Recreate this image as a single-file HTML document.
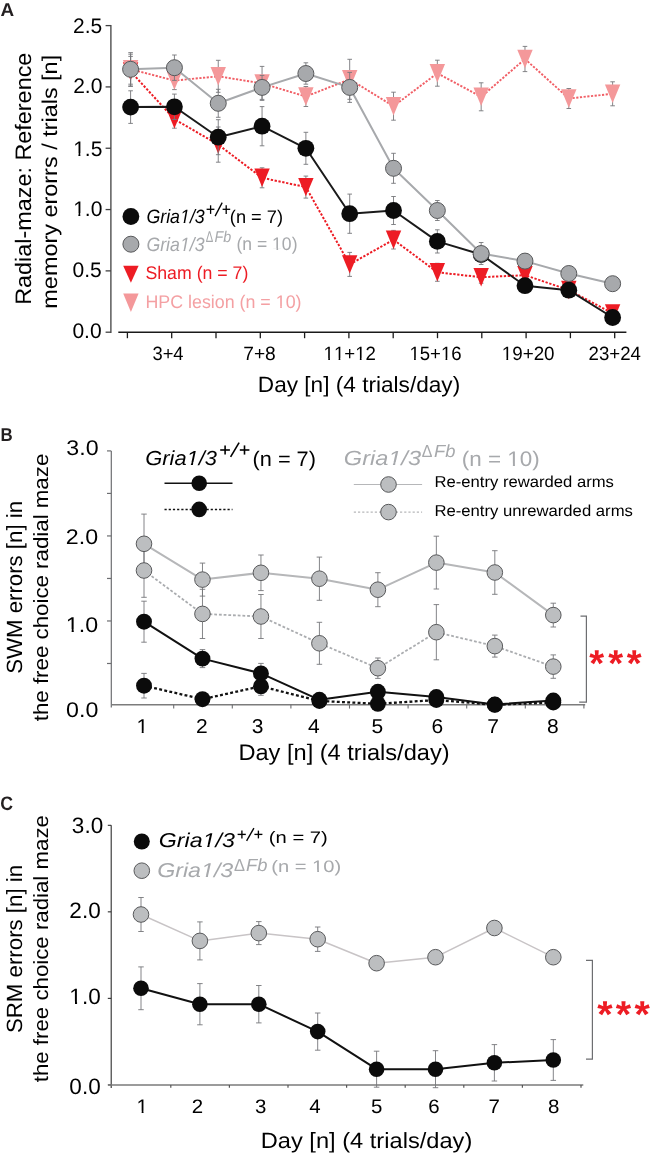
<!DOCTYPE html><html><head><meta charset="utf-8"><title>Figure</title><style>html,body{margin:0;padding:0;background:#fff;}svg{display:block;}text{font-family:"Liberation Sans", sans-serif;font-kerning:none;text-rendering:geometricPrecision;}svg{will-change:transform;}</style></head><body>
<svg width="650" height="1154" viewBox="0 0 650 1154">
<rect width="650" height="1154" fill="#fff"/>
<text x="0.43" y="16.10" font-size="18.6" font-weight="bold" font-style="normal" fill="#231f20" textLength="13.67" lengthAdjust="spacingAndGlyphs">A</text>
<line x1="110.90" y1="25.00" x2="110.90" y2="332.90" stroke="#404041" stroke-width="1.3" stroke-linecap="butt"/>
<line x1="105.60" y1="332.20" x2="110.90" y2="332.20" stroke="#404041" stroke-width="1.3" stroke-linecap="butt"/>
<line x1="105.60" y1="270.88" x2="110.90" y2="270.88" stroke="#404041" stroke-width="1.3" stroke-linecap="butt"/>
<line x1="105.60" y1="209.56" x2="110.90" y2="209.56" stroke="#404041" stroke-width="1.3" stroke-linecap="butt"/>
<line x1="105.60" y1="148.24" x2="110.90" y2="148.24" stroke="#404041" stroke-width="1.3" stroke-linecap="butt"/>
<line x1="105.60" y1="86.92" x2="110.90" y2="86.92" stroke="#404041" stroke-width="1.3" stroke-linecap="butt"/>
<line x1="105.60" y1="25.60" x2="110.90" y2="25.60" stroke="#404041" stroke-width="1.3" stroke-linecap="butt"/>
<text x="72.43" y="338.13" font-size="21.0" font-weight="normal" font-style="normal" fill="#000" textLength="29.19" lengthAdjust="spacingAndGlyphs">0.0</text>
<text x="72.49" y="276.73" font-size="21.0" font-weight="normal" font-style="normal" fill="#000" textLength="29.19" lengthAdjust="spacingAndGlyphs">0.5</text>
<text x="73.13" y="215.58" font-size="21.0" font-weight="normal" font-style="normal" fill="#000" textLength="29.19" lengthAdjust="spacingAndGlyphs">1.0</text>
<polygon points="73.74,216.71 73.74,213.22 78.38,213.22 78.38,216.71" fill="#fff"/>
<polygon points="80.29,216.71 80.29,213.22 84.71,213.22 84.71,216.71" fill="#fff"/>
<text x="73.19" y="155.72" font-size="21.0" font-weight="normal" font-style="normal" fill="#000" textLength="29.19" lengthAdjust="spacingAndGlyphs">1.5</text>
<polygon points="73.80,156.85 73.80,153.36 78.44,153.36 78.44,156.85" fill="#fff"/>
<polygon points="80.36,156.85 80.36,153.36 84.78,153.36 84.78,156.85" fill="#fff"/>
<text x="73.13" y="92.78" font-size="21.0" font-weight="normal" font-style="normal" fill="#000" textLength="29.19" lengthAdjust="spacingAndGlyphs">2.0</text>
<text x="72.99" y="32.58" font-size="21.0" font-weight="normal" font-style="normal" fill="#000" textLength="29.19" lengthAdjust="spacingAndGlyphs">2.5</text>
<line x1="118.30" y1="332.20" x2="626.40" y2="332.20" stroke="#1a1a1a" stroke-width="1.4" stroke-linecap="butt"/>
<line x1="127.40" y1="332.20" x2="127.40" y2="338.20" stroke="#1a1a1a" stroke-width="1.3" stroke-linecap="butt"/>
<line x1="171.70" y1="332.20" x2="171.70" y2="338.20" stroke="#1a1a1a" stroke-width="1.3" stroke-linecap="butt"/>
<line x1="216.00" y1="332.20" x2="216.00" y2="338.20" stroke="#1a1a1a" stroke-width="1.3" stroke-linecap="butt"/>
<line x1="260.30" y1="332.20" x2="260.30" y2="338.20" stroke="#1a1a1a" stroke-width="1.3" stroke-linecap="butt"/>
<line x1="304.60" y1="332.20" x2="304.60" y2="338.20" stroke="#1a1a1a" stroke-width="1.3" stroke-linecap="butt"/>
<line x1="348.90" y1="332.20" x2="348.90" y2="338.20" stroke="#1a1a1a" stroke-width="1.3" stroke-linecap="butt"/>
<line x1="393.20" y1="332.20" x2="393.20" y2="338.20" stroke="#1a1a1a" stroke-width="1.3" stroke-linecap="butt"/>
<line x1="437.50" y1="332.20" x2="437.50" y2="338.20" stroke="#1a1a1a" stroke-width="1.3" stroke-linecap="butt"/>
<line x1="481.80" y1="332.20" x2="481.80" y2="338.20" stroke="#1a1a1a" stroke-width="1.3" stroke-linecap="butt"/>
<line x1="526.10" y1="332.20" x2="526.10" y2="338.20" stroke="#1a1a1a" stroke-width="1.3" stroke-linecap="butt"/>
<line x1="570.40" y1="332.20" x2="570.40" y2="338.20" stroke="#1a1a1a" stroke-width="1.3" stroke-linecap="butt"/>
<line x1="614.70" y1="332.20" x2="614.70" y2="338.20" stroke="#1a1a1a" stroke-width="1.3" stroke-linecap="butt"/>
<text x="152.45" y="359.99" font-size="19.3" font-weight="normal" font-style="normal" fill="#000" textLength="31.14" lengthAdjust="spacingAndGlyphs">3+4</text>
<text x="243.21" y="359.99" font-size="19.3" font-weight="normal" font-style="normal" fill="#000" textLength="32.62" lengthAdjust="spacingAndGlyphs">7+8</text>
<text x="323.58" y="360.09" font-size="19.3" font-weight="normal" font-style="normal" fill="#000" textLength="52.36" lengthAdjust="spacingAndGlyphs">11+12</text>
<polygon points="324.13,361.12 324.13,357.92 328.24,357.92 328.24,361.12" fill="#fff"/>
<polygon points="329.94,361.12 329.94,357.92 333.87,357.92 333.87,361.12" fill="#fff"/>
<polygon points="334.49,361.12 334.49,357.92 338.61,357.92 338.61,361.12" fill="#fff"/>
<polygon points="340.31,361.12 340.31,357.92 344.23,357.92 344.23,361.12" fill="#fff"/>
<polygon points="355.75,361.12 355.75,357.92 359.86,357.92 359.86,361.12" fill="#fff"/>
<polygon points="361.56,361.12 361.56,357.92 365.49,357.92 365.49,361.12" fill="#fff"/>
<text x="409.44" y="359.99" font-size="19.3" font-weight="normal" font-style="normal" fill="#000" textLength="52.13" lengthAdjust="spacingAndGlyphs">15+16</text>
<polygon points="409.98,361.03 409.98,357.83 414.08,357.83 414.08,361.03" fill="#fff"/>
<polygon points="415.77,361.03 415.77,357.83 419.68,357.83 419.68,361.03" fill="#fff"/>
<polygon points="441.46,361.03 441.46,357.83 445.56,357.83 445.56,361.03" fill="#fff"/>
<polygon points="447.26,361.03 447.26,357.83 451.16,357.83 451.16,361.03" fill="#fff"/>
<text x="501.72" y="359.99" font-size="19.3" font-weight="normal" font-style="normal" fill="#000" textLength="52.87" lengthAdjust="spacingAndGlyphs">19+20</text>
<polygon points="502.27,361.03 502.27,357.83 506.42,357.83 506.42,361.03" fill="#fff"/>
<polygon points="508.14,361.03 508.14,357.83 512.10,357.83 512.10,361.03" fill="#fff"/>
<text x="588.61" y="359.99" font-size="19.3" font-weight="normal" font-style="normal" fill="#000" textLength="52.38" lengthAdjust="spacingAndGlyphs">23+24</text>
<text x="257.84" y="391.79" font-size="22.0" font-weight="normal" font-style="normal" fill="#000" textLength="202.36" lengthAdjust="spacingAndGlyphs">Day [n] (4 trials/day)</text>
<text transform="translate(30.80,304.82) rotate(-90)" x="0" y="0" font-size="22.4" fill="#000" textLength="252.16" lengthAdjust="spacingAndGlyphs">Radial-maze: Reference</text>
<text transform="translate(57.30,308.66) rotate(-90)" x="0" y="0" font-size="21.4" fill="#000" textLength="253.83" lengthAdjust="spacingAndGlyphs">memory erorrs / trials [n]</text>
<line x1="130.60" y1="56.40" x2="130.60" y2="86.40" stroke="#76777a" stroke-width="0.9" stroke-linecap="butt"/>
<line x1="128.30" y1="56.40" x2="132.90" y2="56.40" stroke="#76777a" stroke-width="0.9" stroke-linecap="butt"/>
<line x1="128.30" y1="86.40" x2="132.90" y2="86.40" stroke="#76777a" stroke-width="0.9" stroke-linecap="butt"/>
<line x1="174.42" y1="110.20" x2="174.42" y2="128.20" stroke="#76777a" stroke-width="0.9" stroke-linecap="butt"/>
<line x1="172.12" y1="110.20" x2="176.72" y2="110.20" stroke="#76777a" stroke-width="0.9" stroke-linecap="butt"/>
<line x1="172.12" y1="128.20" x2="176.72" y2="128.20" stroke="#76777a" stroke-width="0.9" stroke-linecap="butt"/>
<line x1="218.24" y1="127.00" x2="218.24" y2="162.20" stroke="#76777a" stroke-width="0.9" stroke-linecap="butt"/>
<line x1="215.94" y1="127.00" x2="220.54" y2="127.00" stroke="#76777a" stroke-width="0.9" stroke-linecap="butt"/>
<line x1="215.94" y1="162.20" x2="220.54" y2="162.20" stroke="#76777a" stroke-width="0.9" stroke-linecap="butt"/>
<line x1="262.06" y1="167.80" x2="262.06" y2="187.80" stroke="#76777a" stroke-width="0.9" stroke-linecap="butt"/>
<line x1="259.76" y1="167.80" x2="264.36" y2="167.80" stroke="#76777a" stroke-width="0.9" stroke-linecap="butt"/>
<line x1="259.76" y1="187.80" x2="264.36" y2="187.80" stroke="#76777a" stroke-width="0.9" stroke-linecap="butt"/>
<line x1="305.88" y1="176.10" x2="305.88" y2="198.10" stroke="#76777a" stroke-width="0.9" stroke-linecap="butt"/>
<line x1="303.58" y1="176.10" x2="308.18" y2="176.10" stroke="#76777a" stroke-width="0.9" stroke-linecap="butt"/>
<line x1="303.58" y1="198.10" x2="308.18" y2="198.10" stroke="#76777a" stroke-width="0.9" stroke-linecap="butt"/>
<line x1="349.70" y1="252.40" x2="349.70" y2="276.40" stroke="#76777a" stroke-width="0.9" stroke-linecap="butt"/>
<line x1="347.40" y1="252.40" x2="352.00" y2="252.40" stroke="#76777a" stroke-width="0.9" stroke-linecap="butt"/>
<line x1="347.40" y1="276.40" x2="352.00" y2="276.40" stroke="#76777a" stroke-width="0.9" stroke-linecap="butt"/>
<line x1="393.52" y1="230.40" x2="393.52" y2="249.00" stroke="#76777a" stroke-width="0.9" stroke-linecap="butt"/>
<line x1="391.22" y1="230.40" x2="395.82" y2="230.40" stroke="#76777a" stroke-width="0.9" stroke-linecap="butt"/>
<line x1="391.22" y1="249.00" x2="395.82" y2="249.00" stroke="#76777a" stroke-width="0.9" stroke-linecap="butt"/>
<line x1="437.34" y1="263.30" x2="437.34" y2="281.30" stroke="#76777a" stroke-width="0.9" stroke-linecap="butt"/>
<line x1="435.04" y1="263.30" x2="439.64" y2="263.30" stroke="#76777a" stroke-width="0.9" stroke-linecap="butt"/>
<line x1="435.04" y1="281.30" x2="439.64" y2="281.30" stroke="#76777a" stroke-width="0.9" stroke-linecap="butt"/>
<line x1="481.16" y1="271.20" x2="481.16" y2="283.20" stroke="#76777a" stroke-width="0.9" stroke-linecap="butt"/>
<line x1="478.86" y1="271.20" x2="483.46" y2="271.20" stroke="#76777a" stroke-width="0.9" stroke-linecap="butt"/>
<line x1="478.86" y1="283.20" x2="483.46" y2="283.20" stroke="#76777a" stroke-width="0.9" stroke-linecap="butt"/>
<line x1="524.98" y1="269.20" x2="524.98" y2="281.20" stroke="#76777a" stroke-width="0.9" stroke-linecap="butt"/>
<line x1="522.68" y1="269.20" x2="527.28" y2="269.20" stroke="#76777a" stroke-width="0.9" stroke-linecap="butt"/>
<line x1="522.68" y1="281.20" x2="527.28" y2="281.20" stroke="#76777a" stroke-width="0.9" stroke-linecap="butt"/>
<line x1="568.80" y1="284.00" x2="568.80" y2="296.00" stroke="#76777a" stroke-width="0.9" stroke-linecap="butt"/>
<line x1="566.50" y1="284.00" x2="571.10" y2="284.00" stroke="#76777a" stroke-width="0.9" stroke-linecap="butt"/>
<line x1="566.50" y1="296.00" x2="571.10" y2="296.00" stroke="#76777a" stroke-width="0.9" stroke-linecap="butt"/>
<line x1="612.62" y1="309.40" x2="612.62" y2="317.40" stroke="#76777a" stroke-width="0.9" stroke-linecap="butt"/>
<line x1="610.32" y1="309.40" x2="614.92" y2="309.40" stroke="#76777a" stroke-width="0.9" stroke-linecap="butt"/>
<line x1="610.32" y1="317.40" x2="614.92" y2="317.40" stroke="#76777a" stroke-width="0.9" stroke-linecap="butt"/>
<polyline points="130.60,71.40 174.42,119.20 218.24,144.60 262.06,177.80 305.88,187.10 349.70,264.40 393.52,239.70 437.34,272.30 481.16,277.20 524.98,275.20 568.80,290.00 612.62,313.40" fill="none" stroke="#ed1c24" stroke-width="2.0" stroke-linejoin="round" stroke-linecap="butt" stroke-dasharray="2.3,1.6"/>
<polygon points="122.90,62.20 138.30,62.20 130.60,80.60" fill="#ed1c24"/>
<polygon points="166.72,110.00 182.12,110.00 174.42,128.40" fill="#ed1c24"/>
<polygon points="210.54,135.40 225.94,135.40 218.24,153.80" fill="#ed1c24"/>
<polygon points="254.36,168.60 269.76,168.60 262.06,187.00" fill="#ed1c24"/>
<polygon points="298.18,177.90 313.58,177.90 305.88,196.30" fill="#ed1c24"/>
<polygon points="342.00,255.20 357.40,255.20 349.70,273.60" fill="#ed1c24"/>
<polygon points="385.82,230.50 401.22,230.50 393.52,248.90" fill="#ed1c24"/>
<polygon points="429.64,263.10 445.04,263.10 437.34,281.50" fill="#ed1c24"/>
<polygon points="473.46,268.00 488.86,268.00 481.16,286.40" fill="#ed1c24"/>
<polygon points="517.28,266.00 532.68,266.00 524.98,284.40" fill="#ed1c24"/>
<polygon points="561.10,280.80 576.50,280.80 568.80,299.20" fill="#ed1c24"/>
<polygon points="604.92,304.20 620.32,304.20 612.62,322.60" fill="#ed1c24"/>
<line x1="130.60" y1="54.20" x2="130.60" y2="84.20" stroke="#76777a" stroke-width="0.9" stroke-linecap="butt"/>
<line x1="128.30" y1="54.20" x2="132.90" y2="54.20" stroke="#76777a" stroke-width="0.9" stroke-linecap="butt"/>
<line x1="128.30" y1="84.20" x2="132.90" y2="84.20" stroke="#76777a" stroke-width="0.9" stroke-linecap="butt"/>
<line x1="174.42" y1="71.60" x2="174.42" y2="89.60" stroke="#76777a" stroke-width="0.9" stroke-linecap="butt"/>
<line x1="172.12" y1="71.60" x2="176.72" y2="71.60" stroke="#76777a" stroke-width="0.9" stroke-linecap="butt"/>
<line x1="172.12" y1="89.60" x2="176.72" y2="89.60" stroke="#76777a" stroke-width="0.9" stroke-linecap="butt"/>
<line x1="218.24" y1="60.30" x2="218.24" y2="92.30" stroke="#76777a" stroke-width="0.9" stroke-linecap="butt"/>
<line x1="215.94" y1="60.30" x2="220.54" y2="60.30" stroke="#76777a" stroke-width="0.9" stroke-linecap="butt"/>
<line x1="215.94" y1="92.30" x2="220.54" y2="92.30" stroke="#76777a" stroke-width="0.9" stroke-linecap="butt"/>
<line x1="262.06" y1="66.40" x2="262.06" y2="100.40" stroke="#76777a" stroke-width="0.9" stroke-linecap="butt"/>
<line x1="259.76" y1="66.40" x2="264.36" y2="66.40" stroke="#76777a" stroke-width="0.9" stroke-linecap="butt"/>
<line x1="259.76" y1="100.40" x2="264.36" y2="100.40" stroke="#76777a" stroke-width="0.9" stroke-linecap="butt"/>
<line x1="305.88" y1="86.50" x2="305.88" y2="106.50" stroke="#76777a" stroke-width="0.9" stroke-linecap="butt"/>
<line x1="303.58" y1="86.50" x2="308.18" y2="86.50" stroke="#76777a" stroke-width="0.9" stroke-linecap="butt"/>
<line x1="303.58" y1="106.50" x2="308.18" y2="106.50" stroke="#76777a" stroke-width="0.9" stroke-linecap="butt"/>
<line x1="349.70" y1="59.30" x2="349.70" y2="99.30" stroke="#76777a" stroke-width="0.9" stroke-linecap="butt"/>
<line x1="347.40" y1="59.30" x2="352.00" y2="59.30" stroke="#76777a" stroke-width="0.9" stroke-linecap="butt"/>
<line x1="347.40" y1="99.30" x2="352.00" y2="99.30" stroke="#76777a" stroke-width="0.9" stroke-linecap="butt"/>
<line x1="393.52" y1="92.20" x2="393.52" y2="120.20" stroke="#76777a" stroke-width="0.9" stroke-linecap="butt"/>
<line x1="391.22" y1="92.20" x2="395.82" y2="92.20" stroke="#76777a" stroke-width="0.9" stroke-linecap="butt"/>
<line x1="391.22" y1="120.20" x2="395.82" y2="120.20" stroke="#76777a" stroke-width="0.9" stroke-linecap="butt"/>
<line x1="437.34" y1="60.20" x2="437.34" y2="86.20" stroke="#76777a" stroke-width="0.9" stroke-linecap="butt"/>
<line x1="435.04" y1="60.20" x2="439.64" y2="60.20" stroke="#76777a" stroke-width="0.9" stroke-linecap="butt"/>
<line x1="435.04" y1="86.20" x2="439.64" y2="86.20" stroke="#76777a" stroke-width="0.9" stroke-linecap="butt"/>
<line x1="481.16" y1="82.80" x2="481.16" y2="110.80" stroke="#76777a" stroke-width="0.9" stroke-linecap="butt"/>
<line x1="478.86" y1="82.80" x2="483.46" y2="82.80" stroke="#76777a" stroke-width="0.9" stroke-linecap="butt"/>
<line x1="478.86" y1="110.80" x2="483.46" y2="110.80" stroke="#76777a" stroke-width="0.9" stroke-linecap="butt"/>
<line x1="524.98" y1="46.40" x2="524.98" y2="71.60" stroke="#76777a" stroke-width="0.9" stroke-linecap="butt"/>
<line x1="522.68" y1="46.40" x2="527.28" y2="46.40" stroke="#76777a" stroke-width="0.9" stroke-linecap="butt"/>
<line x1="522.68" y1="71.60" x2="527.28" y2="71.60" stroke="#76777a" stroke-width="0.9" stroke-linecap="butt"/>
<line x1="568.80" y1="88.50" x2="568.80" y2="108.50" stroke="#76777a" stroke-width="0.9" stroke-linecap="butt"/>
<line x1="566.50" y1="88.50" x2="571.10" y2="88.50" stroke="#76777a" stroke-width="0.9" stroke-linecap="butt"/>
<line x1="566.50" y1="108.50" x2="571.10" y2="108.50" stroke="#76777a" stroke-width="0.9" stroke-linecap="butt"/>
<line x1="612.62" y1="81.80" x2="612.62" y2="105.80" stroke="#76777a" stroke-width="0.9" stroke-linecap="butt"/>
<line x1="610.32" y1="81.80" x2="614.92" y2="81.80" stroke="#76777a" stroke-width="0.9" stroke-linecap="butt"/>
<line x1="610.32" y1="105.80" x2="614.92" y2="105.80" stroke="#76777a" stroke-width="0.9" stroke-linecap="butt"/>
<polyline points="130.60,69.20 174.42,80.60 218.24,76.30 262.06,83.40 305.88,96.50 349.70,79.30 393.52,106.20 437.34,73.20 481.16,96.80 524.98,59.00 568.80,98.50 612.62,93.80" fill="none" stroke="#f15f66" stroke-width="1.9" stroke-linejoin="round" stroke-linecap="butt" stroke-dasharray="2.2,1.5"/>
<polygon points="122.90,60.00 138.30,60.00 130.60,78.40" fill="#f4989a"/>
<polygon points="166.72,71.40 182.12,71.40 174.42,89.80" fill="#f4989a"/>
<polygon points="210.54,67.10 225.94,67.10 218.24,85.50" fill="#f4989a"/>
<polygon points="254.36,74.20 269.76,74.20 262.06,92.60" fill="#f4989a"/>
<polygon points="298.18,87.30 313.58,87.30 305.88,105.70" fill="#f4989a"/>
<polygon points="342.00,70.10 357.40,70.10 349.70,88.50" fill="#f4989a"/>
<polygon points="385.82,97.00 401.22,97.00 393.52,115.40" fill="#f4989a"/>
<polygon points="429.64,64.00 445.04,64.00 437.34,82.40" fill="#f4989a"/>
<polygon points="473.46,87.60 488.86,87.60 481.16,106.00" fill="#f4989a"/>
<polygon points="517.28,49.80 532.68,49.80 524.98,68.20" fill="#f4989a"/>
<polygon points="561.10,89.30 576.50,89.30 568.80,107.70" fill="#f4989a"/>
<polygon points="604.92,84.60 620.32,84.60 612.62,103.00" fill="#f4989a"/>
<line x1="130.60" y1="90.80" x2="130.60" y2="123.40" stroke="#76777a" stroke-width="0.9" stroke-linecap="butt"/>
<line x1="128.30" y1="90.80" x2="132.90" y2="90.80" stroke="#76777a" stroke-width="0.9" stroke-linecap="butt"/>
<line x1="128.30" y1="123.40" x2="132.90" y2="123.40" stroke="#76777a" stroke-width="0.9" stroke-linecap="butt"/>
<line x1="174.42" y1="94.10" x2="174.42" y2="119.50" stroke="#76777a" stroke-width="0.9" stroke-linecap="butt"/>
<line x1="172.12" y1="94.10" x2="176.72" y2="94.10" stroke="#76777a" stroke-width="0.9" stroke-linecap="butt"/>
<line x1="172.12" y1="119.50" x2="176.72" y2="119.50" stroke="#76777a" stroke-width="0.9" stroke-linecap="butt"/>
<line x1="218.24" y1="119.70" x2="218.24" y2="154.70" stroke="#76777a" stroke-width="0.9" stroke-linecap="butt"/>
<line x1="215.94" y1="119.70" x2="220.54" y2="119.70" stroke="#76777a" stroke-width="0.9" stroke-linecap="butt"/>
<line x1="215.94" y1="154.70" x2="220.54" y2="154.70" stroke="#76777a" stroke-width="0.9" stroke-linecap="butt"/>
<line x1="262.06" y1="106.60" x2="262.06" y2="145.80" stroke="#76777a" stroke-width="0.9" stroke-linecap="butt"/>
<line x1="259.76" y1="106.60" x2="264.36" y2="106.60" stroke="#76777a" stroke-width="0.9" stroke-linecap="butt"/>
<line x1="259.76" y1="145.80" x2="264.36" y2="145.80" stroke="#76777a" stroke-width="0.9" stroke-linecap="butt"/>
<line x1="305.88" y1="132.30" x2="305.88" y2="164.30" stroke="#76777a" stroke-width="0.9" stroke-linecap="butt"/>
<line x1="303.58" y1="132.30" x2="308.18" y2="132.30" stroke="#76777a" stroke-width="0.9" stroke-linecap="butt"/>
<line x1="303.58" y1="164.30" x2="308.18" y2="164.30" stroke="#76777a" stroke-width="0.9" stroke-linecap="butt"/>
<line x1="349.70" y1="194.10" x2="349.70" y2="233.30" stroke="#76777a" stroke-width="0.9" stroke-linecap="butt"/>
<line x1="347.40" y1="194.10" x2="352.00" y2="194.10" stroke="#76777a" stroke-width="0.9" stroke-linecap="butt"/>
<line x1="347.40" y1="233.30" x2="352.00" y2="233.30" stroke="#76777a" stroke-width="0.9" stroke-linecap="butt"/>
<line x1="393.52" y1="196.50" x2="393.52" y2="224.50" stroke="#76777a" stroke-width="0.9" stroke-linecap="butt"/>
<line x1="391.22" y1="196.50" x2="395.82" y2="196.50" stroke="#76777a" stroke-width="0.9" stroke-linecap="butt"/>
<line x1="391.22" y1="224.50" x2="395.82" y2="224.50" stroke="#76777a" stroke-width="0.9" stroke-linecap="butt"/>
<line x1="437.34" y1="229.80" x2="437.34" y2="253.00" stroke="#76777a" stroke-width="0.9" stroke-linecap="butt"/>
<line x1="435.04" y1="229.80" x2="439.64" y2="229.80" stroke="#76777a" stroke-width="0.9" stroke-linecap="butt"/>
<line x1="435.04" y1="253.00" x2="439.64" y2="253.00" stroke="#76777a" stroke-width="0.9" stroke-linecap="butt"/>
<line x1="481.16" y1="248.50" x2="481.16" y2="260.50" stroke="#76777a" stroke-width="0.9" stroke-linecap="butt"/>
<line x1="478.86" y1="248.50" x2="483.46" y2="248.50" stroke="#76777a" stroke-width="0.9" stroke-linecap="butt"/>
<line x1="478.86" y1="260.50" x2="483.46" y2="260.50" stroke="#76777a" stroke-width="0.9" stroke-linecap="butt"/>
<line x1="524.98" y1="280.70" x2="524.98" y2="290.70" stroke="#76777a" stroke-width="0.9" stroke-linecap="butt"/>
<line x1="522.68" y1="280.70" x2="527.28" y2="280.70" stroke="#76777a" stroke-width="0.9" stroke-linecap="butt"/>
<line x1="522.68" y1="290.70" x2="527.28" y2="290.70" stroke="#76777a" stroke-width="0.9" stroke-linecap="butt"/>
<line x1="568.80" y1="285.20" x2="568.80" y2="295.20" stroke="#76777a" stroke-width="0.9" stroke-linecap="butt"/>
<line x1="566.50" y1="285.20" x2="571.10" y2="285.20" stroke="#76777a" stroke-width="0.9" stroke-linecap="butt"/>
<line x1="566.50" y1="295.20" x2="571.10" y2="295.20" stroke="#76777a" stroke-width="0.9" stroke-linecap="butt"/>
<line x1="612.62" y1="313.50" x2="612.62" y2="321.50" stroke="#76777a" stroke-width="0.9" stroke-linecap="butt"/>
<line x1="610.32" y1="313.50" x2="614.92" y2="313.50" stroke="#76777a" stroke-width="0.9" stroke-linecap="butt"/>
<line x1="610.32" y1="321.50" x2="614.92" y2="321.50" stroke="#76777a" stroke-width="0.9" stroke-linecap="butt"/>
<polyline points="130.60,107.10 174.42,106.80 218.24,137.20 262.06,126.20 305.88,148.30 349.70,213.70 393.52,210.50 437.34,241.40 481.16,254.50 524.98,285.70 568.80,290.20 612.62,317.50" fill="none" stroke="#1a1a1a" stroke-width="2.0" stroke-linejoin="round" stroke-linecap="butt"/>
<circle cx="130.60" cy="107.10" r="8.4" fill="#0b0b0b"/>
<circle cx="174.42" cy="106.80" r="8.4" fill="#0b0b0b"/>
<circle cx="218.24" cy="137.20" r="8.4" fill="#0b0b0b"/>
<circle cx="262.06" cy="126.20" r="8.4" fill="#0b0b0b"/>
<circle cx="305.88" cy="148.30" r="8.4" fill="#0b0b0b"/>
<circle cx="349.70" cy="213.70" r="8.4" fill="#0b0b0b"/>
<circle cx="393.52" cy="210.50" r="8.4" fill="#0b0b0b"/>
<circle cx="437.34" cy="241.40" r="8.4" fill="#0b0b0b"/>
<circle cx="481.16" cy="254.50" r="8.4" fill="#0b0b0b"/>
<circle cx="524.98" cy="285.70" r="8.4" fill="#0b0b0b"/>
<circle cx="568.80" cy="290.20" r="8.4" fill="#0b0b0b"/>
<circle cx="612.62" cy="317.50" r="8.4" fill="#0b0b0b"/>
<line x1="130.60" y1="52.60" x2="130.60" y2="86.00" stroke="#76777a" stroke-width="0.9" stroke-linecap="butt"/>
<line x1="128.30" y1="52.60" x2="132.90" y2="52.60" stroke="#76777a" stroke-width="0.9" stroke-linecap="butt"/>
<line x1="128.30" y1="86.00" x2="132.90" y2="86.00" stroke="#76777a" stroke-width="0.9" stroke-linecap="butt"/>
<line x1="174.42" y1="55.00" x2="174.42" y2="80.40" stroke="#76777a" stroke-width="0.9" stroke-linecap="butt"/>
<line x1="172.12" y1="55.00" x2="176.72" y2="55.00" stroke="#76777a" stroke-width="0.9" stroke-linecap="butt"/>
<line x1="172.12" y1="80.40" x2="176.72" y2="80.40" stroke="#76777a" stroke-width="0.9" stroke-linecap="butt"/>
<line x1="218.24" y1="89.30" x2="218.24" y2="117.30" stroke="#76777a" stroke-width="0.9" stroke-linecap="butt"/>
<line x1="215.94" y1="89.30" x2="220.54" y2="89.30" stroke="#76777a" stroke-width="0.9" stroke-linecap="butt"/>
<line x1="215.94" y1="117.30" x2="220.54" y2="117.30" stroke="#76777a" stroke-width="0.9" stroke-linecap="butt"/>
<line x1="262.06" y1="75.40" x2="262.06" y2="99.40" stroke="#76777a" stroke-width="0.9" stroke-linecap="butt"/>
<line x1="259.76" y1="75.40" x2="264.36" y2="75.40" stroke="#76777a" stroke-width="0.9" stroke-linecap="butt"/>
<line x1="259.76" y1="99.40" x2="264.36" y2="99.40" stroke="#76777a" stroke-width="0.9" stroke-linecap="butt"/>
<line x1="305.88" y1="62.80" x2="305.88" y2="84.20" stroke="#76777a" stroke-width="0.9" stroke-linecap="butt"/>
<line x1="303.58" y1="62.80" x2="308.18" y2="62.80" stroke="#76777a" stroke-width="0.9" stroke-linecap="butt"/>
<line x1="303.58" y1="84.20" x2="308.18" y2="84.20" stroke="#76777a" stroke-width="0.9" stroke-linecap="butt"/>
<line x1="349.70" y1="72.40" x2="349.70" y2="102.40" stroke="#76777a" stroke-width="0.9" stroke-linecap="butt"/>
<line x1="347.40" y1="72.40" x2="352.00" y2="72.40" stroke="#76777a" stroke-width="0.9" stroke-linecap="butt"/>
<line x1="347.40" y1="102.40" x2="352.00" y2="102.40" stroke="#76777a" stroke-width="0.9" stroke-linecap="butt"/>
<line x1="393.52" y1="153.30" x2="393.52" y2="183.30" stroke="#76777a" stroke-width="0.9" stroke-linecap="butt"/>
<line x1="391.22" y1="153.30" x2="395.82" y2="153.30" stroke="#76777a" stroke-width="0.9" stroke-linecap="butt"/>
<line x1="391.22" y1="183.30" x2="395.82" y2="183.30" stroke="#76777a" stroke-width="0.9" stroke-linecap="butt"/>
<line x1="437.34" y1="200.50" x2="437.34" y2="220.50" stroke="#76777a" stroke-width="0.9" stroke-linecap="butt"/>
<line x1="435.04" y1="200.50" x2="439.64" y2="200.50" stroke="#76777a" stroke-width="0.9" stroke-linecap="butt"/>
<line x1="435.04" y1="220.50" x2="439.64" y2="220.50" stroke="#76777a" stroke-width="0.9" stroke-linecap="butt"/>
<line x1="481.16" y1="242.50" x2="481.16" y2="264.50" stroke="#76777a" stroke-width="0.9" stroke-linecap="butt"/>
<line x1="478.86" y1="242.50" x2="483.46" y2="242.50" stroke="#76777a" stroke-width="0.9" stroke-linecap="butt"/>
<line x1="478.86" y1="264.50" x2="483.46" y2="264.50" stroke="#76777a" stroke-width="0.9" stroke-linecap="butt"/>
<line x1="524.98" y1="256.10" x2="524.98" y2="266.10" stroke="#76777a" stroke-width="0.9" stroke-linecap="butt"/>
<line x1="522.68" y1="256.10" x2="527.28" y2="256.10" stroke="#76777a" stroke-width="0.9" stroke-linecap="butt"/>
<line x1="522.68" y1="266.10" x2="527.28" y2="266.10" stroke="#76777a" stroke-width="0.9" stroke-linecap="butt"/>
<line x1="568.80" y1="268.50" x2="568.80" y2="278.50" stroke="#76777a" stroke-width="0.9" stroke-linecap="butt"/>
<line x1="566.50" y1="268.50" x2="571.10" y2="268.50" stroke="#76777a" stroke-width="0.9" stroke-linecap="butt"/>
<line x1="566.50" y1="278.50" x2="571.10" y2="278.50" stroke="#76777a" stroke-width="0.9" stroke-linecap="butt"/>
<line x1="612.62" y1="279.70" x2="612.62" y2="287.70" stroke="#76777a" stroke-width="0.9" stroke-linecap="butt"/>
<line x1="610.32" y1="279.70" x2="614.92" y2="279.70" stroke="#76777a" stroke-width="0.9" stroke-linecap="butt"/>
<line x1="610.32" y1="287.70" x2="614.92" y2="287.70" stroke="#76777a" stroke-width="0.9" stroke-linecap="butt"/>
<polyline points="130.60,69.30 174.42,67.70 218.24,103.30 262.06,87.40 305.88,73.50 349.70,87.40 393.52,168.30 437.34,210.50 481.16,253.50 524.98,261.10 568.80,273.50 612.62,283.70" fill="none" stroke="#a7a9ac" stroke-width="2.0" stroke-linejoin="round" stroke-linecap="butt"/>
<circle cx="130.60" cy="69.30" r="8.0" fill="#a7a9ac" stroke="#58595b" stroke-width="1"/>
<circle cx="174.42" cy="67.70" r="8.0" fill="#a7a9ac" stroke="#58595b" stroke-width="1"/>
<circle cx="218.24" cy="103.30" r="8.0" fill="#a7a9ac" stroke="#58595b" stroke-width="1"/>
<circle cx="262.06" cy="87.40" r="8.0" fill="#a7a9ac" stroke="#58595b" stroke-width="1"/>
<circle cx="305.88" cy="73.50" r="8.0" fill="#a7a9ac" stroke="#58595b" stroke-width="1"/>
<circle cx="349.70" cy="87.40" r="8.0" fill="#a7a9ac" stroke="#58595b" stroke-width="1"/>
<circle cx="393.52" cy="168.30" r="8.0" fill="#a7a9ac" stroke="#58595b" stroke-width="1"/>
<circle cx="437.34" cy="210.50" r="8.0" fill="#a7a9ac" stroke="#58595b" stroke-width="1"/>
<circle cx="481.16" cy="253.50" r="8.0" fill="#a7a9ac" stroke="#58595b" stroke-width="1"/>
<circle cx="524.98" cy="261.10" r="8.0" fill="#a7a9ac" stroke="#58595b" stroke-width="1"/>
<circle cx="568.80" cy="273.50" r="8.0" fill="#a7a9ac" stroke="#58595b" stroke-width="1"/>
<circle cx="612.62" cy="283.70" r="8.0" fill="#a7a9ac" stroke="#58595b" stroke-width="1"/>
<circle cx="130.90" cy="216.50" r="8.4" fill="#0b0b0b"/>
<text x="146.42" y="222.80" font-size="19.3" font-weight="normal" font-style="italic" fill="#000" textLength="58.33" lengthAdjust="spacingAndGlyphs">Gria1/3</text>
<polygon points="179.85,223.84 180.25,220.63 183.98,220.63 183.37,223.84" fill="#fff"/>
<polygon points="185.07,223.84 185.61,220.63 189.23,220.63 188.50,223.84" fill="#fff"/>
<line x1="206.60" y1="209.30" x2="214.40" y2="209.30" stroke="#000" stroke-width="1.3" stroke-linecap="butt"/>
<line x1="222.60" y1="209.30" x2="230.20" y2="209.30" stroke="#000" stroke-width="1.3" stroke-linecap="butt"/>
<line x1="210.60" y1="205.30" x2="210.60" y2="213.90" stroke="#000" stroke-width="1.3" stroke-linecap="butt"/>
<line x1="226.20" y1="205.30" x2="226.20" y2="213.90" stroke="#000" stroke-width="1.3" stroke-linecap="butt"/>
<line x1="215.10" y1="216.10" x2="222.20" y2="202.60" stroke="#000" stroke-width="1.3" stroke-linecap="butt"/>
<text x="229.87" y="223.44" font-size="18.3" font-weight="normal" font-style="normal" fill="#000" textLength="53.16" lengthAdjust="spacingAndGlyphs">(n = 7)</text>
<circle cx="130.90" cy="244.20" r="8.0" fill="#a7a9ac" stroke="#58595b" stroke-width="1"/>
<text x="146.43" y="250.80" font-size="19.3" font-weight="normal" font-style="italic" fill="#a7a9ac" textLength="58.13" lengthAdjust="spacingAndGlyphs">Gria1/3</text>
<polygon points="179.74,251.84 180.13,248.63 183.85,248.63 183.25,251.84" fill="#fff"/>
<polygon points="184.93,251.84 185.48,248.63 189.09,248.63 188.35,251.84" fill="#fff"/>
<text x="205.87" y="241.93" font-size="15.5" font-weight="normal" font-style="normal" fill="#a7a9ac" textLength="7.47" lengthAdjust="spacingAndGlyphs">Δ</text>
<text x="214.56" y="241.75" font-size="15.5" font-weight="normal" font-style="italic" fill="#a7a9ac" textLength="16.68" lengthAdjust="spacingAndGlyphs">Fb</text>
<text x="236.51" y="250.49" font-size="18.3" font-weight="normal" font-style="normal" fill="#a7a9ac" textLength="60.98" lengthAdjust="spacingAndGlyphs">(n = 10)</text>
<polygon points="272.63,251.47 272.63,248.43 276.51,248.43 276.51,251.47" fill="#fff"/>
<polygon points="278.11,251.47 278.11,248.43 281.80,248.43 281.80,251.47" fill="#fff"/>
<polygon points="123.20,265.70 138.60,265.70 130.90,282.70" fill="#ed1c24"/>
<text x="145.39" y="278.84" font-size="18.3" font-weight="normal" font-style="normal" fill="#ed1c24" textLength="103.01" lengthAdjust="spacingAndGlyphs">Sham (n = 7)</text>
<polygon points="123.20,293.50 138.60,293.50 130.90,311.90" fill="#f4989a"/>
<text x="145.44" y="307.89" font-size="18.3" font-weight="normal" font-style="normal" fill="#f4a0a3" textLength="156.07" lengthAdjust="spacingAndGlyphs">HPC lesion (n = 10)</text>
<polygon points="276.26,308.87 276.26,305.83 280.20,305.83 280.20,308.87" fill="#fff"/>
<polygon points="281.82,308.87 281.82,305.83 285.57,305.83 285.57,308.87" fill="#fff"/>
<text x="0.47" y="441.10" font-size="18.6" font-weight="bold" font-style="normal" fill="#231f20" textLength="12.20" lengthAdjust="spacingAndGlyphs">B</text>
<line x1="111.30" y1="450.90" x2="111.30" y2="707.60" stroke="#6d6e71" stroke-width="1.2" stroke-linecap="butt"/>
<line x1="107.00" y1="663.49" x2="111.30" y2="663.49" stroke="#6d6e71" stroke-width="1.2" stroke-linecap="butt"/>
<line x1="107.00" y1="620.97" x2="111.30" y2="620.97" stroke="#6d6e71" stroke-width="1.2" stroke-linecap="butt"/>
<line x1="107.00" y1="578.46" x2="111.30" y2="578.46" stroke="#6d6e71" stroke-width="1.2" stroke-linecap="butt"/>
<line x1="107.00" y1="535.94" x2="111.30" y2="535.94" stroke="#6d6e71" stroke-width="1.2" stroke-linecap="butt"/>
<line x1="107.00" y1="493.43" x2="111.30" y2="493.43" stroke="#6d6e71" stroke-width="1.2" stroke-linecap="butt"/>
<line x1="107.00" y1="450.91" x2="111.30" y2="450.91" stroke="#6d6e71" stroke-width="1.2" stroke-linecap="butt"/>
<text x="66.13" y="717.48" font-size="21.3" font-weight="normal" font-style="normal" fill="#000" textLength="32.27" lengthAdjust="spacingAndGlyphs">0.0</text>
<text x="65.83" y="631.58" font-size="21.3" font-weight="normal" font-style="normal" fill="#000" textLength="32.27" lengthAdjust="spacingAndGlyphs">1.0</text>
<polygon points="66.51,632.73 66.51,629.19 71.64,629.19 71.64,632.73" fill="#fff"/>
<polygon points="73.76,632.73 73.76,629.19 78.64,629.19 78.64,632.73" fill="#fff"/>
<text x="65.83" y="543.68" font-size="21.3" font-weight="normal" font-style="normal" fill="#000" textLength="32.27" lengthAdjust="spacingAndGlyphs">2.0</text>
<text x="66.33" y="455.28" font-size="21.3" font-weight="normal" font-style="normal" fill="#000" textLength="32.27" lengthAdjust="spacingAndGlyphs">3.0</text>
<line x1="111.30" y1="704.80" x2="585.20" y2="704.80" stroke="#7c7c7c" stroke-width="1.4" stroke-linecap="butt"/>
<line x1="173.70" y1="704.80" x2="173.70" y2="708.60" stroke="#6d6e71" stroke-width="1.1" stroke-linecap="butt"/>
<line x1="232.30" y1="704.80" x2="232.30" y2="708.60" stroke="#6d6e71" stroke-width="1.1" stroke-linecap="butt"/>
<line x1="290.90" y1="704.80" x2="290.90" y2="708.60" stroke="#6d6e71" stroke-width="1.1" stroke-linecap="butt"/>
<line x1="349.50" y1="704.80" x2="349.50" y2="708.60" stroke="#6d6e71" stroke-width="1.1" stroke-linecap="butt"/>
<line x1="408.10" y1="704.80" x2="408.10" y2="708.60" stroke="#6d6e71" stroke-width="1.1" stroke-linecap="butt"/>
<line x1="466.70" y1="704.80" x2="466.70" y2="708.60" stroke="#6d6e71" stroke-width="1.1" stroke-linecap="butt"/>
<line x1="525.30" y1="704.80" x2="525.30" y2="708.60" stroke="#6d6e71" stroke-width="1.1" stroke-linecap="butt"/>
<line x1="583.90" y1="704.80" x2="583.90" y2="708.60" stroke="#6d6e71" stroke-width="1.1" stroke-linecap="butt"/>
<text x="136.47" y="733.00" font-size="20.0" font-weight="normal" font-style="normal" fill="#000" textLength="11.68" lengthAdjust="spacingAndGlyphs">1</text>
<polygon points="137.09,734.07 137.09,730.75 141.72,730.75 141.72,734.07" fill="#fff"/>
<polygon points="143.64,734.07 143.64,730.75 148.06,730.75 148.06,734.07" fill="#fff"/>
<text x="195.96" y="733.00" font-size="20.0" font-weight="normal" font-style="normal" fill="#000" textLength="11.68" lengthAdjust="spacingAndGlyphs">2</text>
<text x="251.72" y="733.00" font-size="20.0" font-weight="normal" font-style="normal" fill="#000" textLength="11.68" lengthAdjust="spacingAndGlyphs">3</text>
<text x="307.93" y="733.00" font-size="20.0" font-weight="normal" font-style="normal" fill="#000" textLength="11.68" lengthAdjust="spacingAndGlyphs">4</text>
<text x="371.48" y="733.00" font-size="20.0" font-weight="normal" font-style="normal" fill="#000" textLength="11.68" lengthAdjust="spacingAndGlyphs">5</text>
<text x="431.49" y="733.00" font-size="20.0" font-weight="normal" font-style="normal" fill="#000" textLength="11.68" lengthAdjust="spacingAndGlyphs">6</text>
<text x="487.15" y="733.00" font-size="20.0" font-weight="normal" font-style="normal" fill="#000" textLength="11.68" lengthAdjust="spacingAndGlyphs">7</text>
<text x="547.06" y="733.00" font-size="20.0" font-weight="normal" font-style="normal" fill="#000" textLength="11.68" lengthAdjust="spacingAndGlyphs">8</text>
<text x="238.46" y="759.57" font-size="22.5" font-weight="normal" font-style="normal" fill="#000" textLength="211.10" lengthAdjust="spacingAndGlyphs">Day [n] (4 trials/day)</text>
<text transform="translate(21.90,673.81) rotate(-90)" x="0" y="0" font-size="22.0" fill="#000" textLength="172.85" lengthAdjust="spacingAndGlyphs">SWM errors [n] in</text>
<text transform="translate(48.00,721.24) rotate(-90)" x="0" y="0" font-size="20.6" fill="#000" textLength="267.53" lengthAdjust="spacingAndGlyphs">the free choice radial maze</text>
<line x1="144.00" y1="514.10" x2="144.00" y2="573.50" stroke="#76777a" stroke-width="0.9" stroke-linecap="butt"/>
<line x1="141.25" y1="514.10" x2="146.75" y2="514.10" stroke="#76777a" stroke-width="0.9" stroke-linecap="butt"/>
<line x1="141.25" y1="573.50" x2="146.75" y2="573.50" stroke="#76777a" stroke-width="0.9" stroke-linecap="butt"/>
<line x1="202.47" y1="563.10" x2="202.47" y2="596.10" stroke="#76777a" stroke-width="0.9" stroke-linecap="butt"/>
<line x1="199.72" y1="563.10" x2="205.22" y2="563.10" stroke="#76777a" stroke-width="0.9" stroke-linecap="butt"/>
<line x1="199.72" y1="596.10" x2="205.22" y2="596.10" stroke="#76777a" stroke-width="0.9" stroke-linecap="butt"/>
<line x1="260.94" y1="555.00" x2="260.94" y2="590.60" stroke="#76777a" stroke-width="0.9" stroke-linecap="butt"/>
<line x1="258.19" y1="555.00" x2="263.69" y2="555.00" stroke="#76777a" stroke-width="0.9" stroke-linecap="butt"/>
<line x1="258.19" y1="590.60" x2="263.69" y2="590.60" stroke="#76777a" stroke-width="0.9" stroke-linecap="butt"/>
<line x1="319.41" y1="557.10" x2="319.41" y2="600.30" stroke="#76777a" stroke-width="0.9" stroke-linecap="butt"/>
<line x1="316.66" y1="557.10" x2="322.16" y2="557.10" stroke="#76777a" stroke-width="0.9" stroke-linecap="butt"/>
<line x1="316.66" y1="600.30" x2="322.16" y2="600.30" stroke="#76777a" stroke-width="0.9" stroke-linecap="butt"/>
<line x1="377.88" y1="572.70" x2="377.88" y2="606.70" stroke="#76777a" stroke-width="0.9" stroke-linecap="butt"/>
<line x1="375.13" y1="572.70" x2="380.63" y2="572.70" stroke="#76777a" stroke-width="0.9" stroke-linecap="butt"/>
<line x1="375.13" y1="606.70" x2="380.63" y2="606.70" stroke="#76777a" stroke-width="0.9" stroke-linecap="butt"/>
<line x1="436.35" y1="536.20" x2="436.35" y2="589.00" stroke="#76777a" stroke-width="0.9" stroke-linecap="butt"/>
<line x1="433.60" y1="536.20" x2="439.10" y2="536.20" stroke="#76777a" stroke-width="0.9" stroke-linecap="butt"/>
<line x1="433.60" y1="589.00" x2="439.10" y2="589.00" stroke="#76777a" stroke-width="0.9" stroke-linecap="butt"/>
<line x1="494.82" y1="550.70" x2="494.82" y2="594.30" stroke="#76777a" stroke-width="0.9" stroke-linecap="butt"/>
<line x1="492.07" y1="550.70" x2="497.57" y2="550.70" stroke="#76777a" stroke-width="0.9" stroke-linecap="butt"/>
<line x1="492.07" y1="594.30" x2="497.57" y2="594.30" stroke="#76777a" stroke-width="0.9" stroke-linecap="butt"/>
<line x1="553.29" y1="603.20" x2="553.29" y2="627.00" stroke="#76777a" stroke-width="0.9" stroke-linecap="butt"/>
<line x1="550.54" y1="603.20" x2="556.04" y2="603.20" stroke="#76777a" stroke-width="0.9" stroke-linecap="butt"/>
<line x1="550.54" y1="627.00" x2="556.04" y2="627.00" stroke="#76777a" stroke-width="0.9" stroke-linecap="butt"/>
<line x1="144.00" y1="543.70" x2="144.00" y2="597.30" stroke="#76777a" stroke-width="0.9" stroke-linecap="butt"/>
<line x1="141.25" y1="543.70" x2="146.75" y2="543.70" stroke="#76777a" stroke-width="0.9" stroke-linecap="butt"/>
<line x1="141.25" y1="597.30" x2="146.75" y2="597.30" stroke="#76777a" stroke-width="0.9" stroke-linecap="butt"/>
<line x1="202.47" y1="589.30" x2="202.47" y2="638.50" stroke="#76777a" stroke-width="0.9" stroke-linecap="butt"/>
<line x1="199.72" y1="589.30" x2="205.22" y2="589.30" stroke="#76777a" stroke-width="0.9" stroke-linecap="butt"/>
<line x1="199.72" y1="638.50" x2="205.22" y2="638.50" stroke="#76777a" stroke-width="0.9" stroke-linecap="butt"/>
<line x1="260.94" y1="594.50" x2="260.94" y2="638.50" stroke="#76777a" stroke-width="0.9" stroke-linecap="butt"/>
<line x1="258.19" y1="594.50" x2="263.69" y2="594.50" stroke="#76777a" stroke-width="0.9" stroke-linecap="butt"/>
<line x1="258.19" y1="638.50" x2="263.69" y2="638.50" stroke="#76777a" stroke-width="0.9" stroke-linecap="butt"/>
<line x1="319.41" y1="622.30" x2="319.41" y2="664.30" stroke="#76777a" stroke-width="0.9" stroke-linecap="butt"/>
<line x1="316.66" y1="622.30" x2="322.16" y2="622.30" stroke="#76777a" stroke-width="0.9" stroke-linecap="butt"/>
<line x1="316.66" y1="664.30" x2="322.16" y2="664.30" stroke="#76777a" stroke-width="0.9" stroke-linecap="butt"/>
<line x1="377.88" y1="658.00" x2="377.88" y2="678.40" stroke="#76777a" stroke-width="0.9" stroke-linecap="butt"/>
<line x1="375.13" y1="658.00" x2="380.63" y2="658.00" stroke="#76777a" stroke-width="0.9" stroke-linecap="butt"/>
<line x1="375.13" y1="678.40" x2="380.63" y2="678.40" stroke="#76777a" stroke-width="0.9" stroke-linecap="butt"/>
<line x1="436.35" y1="604.60" x2="436.35" y2="659.80" stroke="#76777a" stroke-width="0.9" stroke-linecap="butt"/>
<line x1="433.60" y1="604.60" x2="439.10" y2="604.60" stroke="#76777a" stroke-width="0.9" stroke-linecap="butt"/>
<line x1="433.60" y1="659.80" x2="439.10" y2="659.80" stroke="#76777a" stroke-width="0.9" stroke-linecap="butt"/>
<line x1="494.82" y1="635.10" x2="494.82" y2="657.10" stroke="#76777a" stroke-width="0.9" stroke-linecap="butt"/>
<line x1="492.07" y1="635.10" x2="497.57" y2="635.10" stroke="#76777a" stroke-width="0.9" stroke-linecap="butt"/>
<line x1="492.07" y1="657.10" x2="497.57" y2="657.10" stroke="#76777a" stroke-width="0.9" stroke-linecap="butt"/>
<line x1="553.29" y1="654.90" x2="553.29" y2="678.30" stroke="#76777a" stroke-width="0.9" stroke-linecap="butt"/>
<line x1="550.54" y1="654.90" x2="556.04" y2="654.90" stroke="#76777a" stroke-width="0.9" stroke-linecap="butt"/>
<line x1="550.54" y1="678.30" x2="556.04" y2="678.30" stroke="#76777a" stroke-width="0.9" stroke-linecap="butt"/>
<line x1="144.00" y1="601.20" x2="144.00" y2="642.20" stroke="#76777a" stroke-width="0.9" stroke-linecap="butt"/>
<line x1="141.25" y1="601.20" x2="146.75" y2="601.20" stroke="#76777a" stroke-width="0.9" stroke-linecap="butt"/>
<line x1="141.25" y1="642.20" x2="146.75" y2="642.20" stroke="#76777a" stroke-width="0.9" stroke-linecap="butt"/>
<line x1="202.47" y1="649.60" x2="202.47" y2="667.60" stroke="#76777a" stroke-width="0.9" stroke-linecap="butt"/>
<line x1="199.72" y1="649.60" x2="205.22" y2="649.60" stroke="#76777a" stroke-width="0.9" stroke-linecap="butt"/>
<line x1="199.72" y1="667.60" x2="205.22" y2="667.60" stroke="#76777a" stroke-width="0.9" stroke-linecap="butt"/>
<line x1="260.94" y1="663.40" x2="260.94" y2="683.40" stroke="#76777a" stroke-width="0.9" stroke-linecap="butt"/>
<line x1="258.19" y1="663.40" x2="263.69" y2="663.40" stroke="#76777a" stroke-width="0.9" stroke-linecap="butt"/>
<line x1="258.19" y1="683.40" x2="263.69" y2="683.40" stroke="#76777a" stroke-width="0.9" stroke-linecap="butt"/>
<line x1="319.41" y1="696.80" x2="319.41" y2="702.80" stroke="#76777a" stroke-width="0.9" stroke-linecap="butt"/>
<line x1="316.66" y1="696.80" x2="322.16" y2="696.80" stroke="#76777a" stroke-width="0.9" stroke-linecap="butt"/>
<line x1="316.66" y1="702.80" x2="322.16" y2="702.80" stroke="#76777a" stroke-width="0.9" stroke-linecap="butt"/>
<line x1="377.88" y1="686.80" x2="377.88" y2="696.80" stroke="#76777a" stroke-width="0.9" stroke-linecap="butt"/>
<line x1="375.13" y1="686.80" x2="380.63" y2="686.80" stroke="#76777a" stroke-width="0.9" stroke-linecap="butt"/>
<line x1="375.13" y1="696.80" x2="380.63" y2="696.80" stroke="#76777a" stroke-width="0.9" stroke-linecap="butt"/>
<line x1="436.35" y1="693.00" x2="436.35" y2="701.00" stroke="#76777a" stroke-width="0.9" stroke-linecap="butt"/>
<line x1="433.60" y1="693.00" x2="439.10" y2="693.00" stroke="#76777a" stroke-width="0.9" stroke-linecap="butt"/>
<line x1="433.60" y1="701.00" x2="439.10" y2="701.00" stroke="#76777a" stroke-width="0.9" stroke-linecap="butt"/>
<line x1="494.82" y1="702.50" x2="494.82" y2="706.50" stroke="#76777a" stroke-width="0.9" stroke-linecap="butt"/>
<line x1="492.07" y1="702.50" x2="497.57" y2="702.50" stroke="#76777a" stroke-width="0.9" stroke-linecap="butt"/>
<line x1="492.07" y1="706.50" x2="497.57" y2="706.50" stroke="#76777a" stroke-width="0.9" stroke-linecap="butt"/>
<line x1="553.29" y1="697.50" x2="553.29" y2="703.50" stroke="#76777a" stroke-width="0.9" stroke-linecap="butt"/>
<line x1="550.54" y1="697.50" x2="556.04" y2="697.50" stroke="#76777a" stroke-width="0.9" stroke-linecap="butt"/>
<line x1="550.54" y1="703.50" x2="556.04" y2="703.50" stroke="#76777a" stroke-width="0.9" stroke-linecap="butt"/>
<line x1="144.00" y1="673.40" x2="144.00" y2="698.00" stroke="#76777a" stroke-width="0.9" stroke-linecap="butt"/>
<line x1="141.25" y1="673.40" x2="146.75" y2="673.40" stroke="#76777a" stroke-width="0.9" stroke-linecap="butt"/>
<line x1="141.25" y1="698.00" x2="146.75" y2="698.00" stroke="#76777a" stroke-width="0.9" stroke-linecap="butt"/>
<line x1="202.47" y1="696.20" x2="202.47" y2="702.20" stroke="#76777a" stroke-width="0.9" stroke-linecap="butt"/>
<line x1="199.72" y1="696.20" x2="205.22" y2="696.20" stroke="#76777a" stroke-width="0.9" stroke-linecap="butt"/>
<line x1="199.72" y1="702.20" x2="205.22" y2="702.20" stroke="#76777a" stroke-width="0.9" stroke-linecap="butt"/>
<line x1="260.94" y1="677.30" x2="260.94" y2="695.30" stroke="#76777a" stroke-width="0.9" stroke-linecap="butt"/>
<line x1="258.19" y1="677.30" x2="263.69" y2="677.30" stroke="#76777a" stroke-width="0.9" stroke-linecap="butt"/>
<line x1="258.19" y1="695.30" x2="263.69" y2="695.30" stroke="#76777a" stroke-width="0.9" stroke-linecap="butt"/>
<line x1="319.41" y1="699.00" x2="319.41" y2="703.00" stroke="#76777a" stroke-width="0.9" stroke-linecap="butt"/>
<line x1="316.66" y1="699.00" x2="322.16" y2="699.00" stroke="#76777a" stroke-width="0.9" stroke-linecap="butt"/>
<line x1="316.66" y1="703.00" x2="322.16" y2="703.00" stroke="#76777a" stroke-width="0.9" stroke-linecap="butt"/>
<line x1="377.88" y1="701.80" x2="377.88" y2="705.80" stroke="#76777a" stroke-width="0.9" stroke-linecap="butt"/>
<line x1="375.13" y1="701.80" x2="380.63" y2="701.80" stroke="#76777a" stroke-width="0.9" stroke-linecap="butt"/>
<line x1="375.13" y1="705.80" x2="380.63" y2="705.80" stroke="#76777a" stroke-width="0.9" stroke-linecap="butt"/>
<line x1="436.35" y1="698.00" x2="436.35" y2="702.00" stroke="#76777a" stroke-width="0.9" stroke-linecap="butt"/>
<line x1="433.60" y1="698.00" x2="439.10" y2="698.00" stroke="#76777a" stroke-width="0.9" stroke-linecap="butt"/>
<line x1="433.60" y1="702.00" x2="439.10" y2="702.00" stroke="#76777a" stroke-width="0.9" stroke-linecap="butt"/>
<line x1="494.82" y1="703.80" x2="494.82" y2="705.80" stroke="#76777a" stroke-width="0.9" stroke-linecap="butt"/>
<line x1="492.07" y1="703.80" x2="497.57" y2="703.80" stroke="#76777a" stroke-width="0.9" stroke-linecap="butt"/>
<line x1="492.07" y1="705.80" x2="497.57" y2="705.80" stroke="#76777a" stroke-width="0.9" stroke-linecap="butt"/>
<line x1="553.29" y1="701.50" x2="553.29" y2="703.50" stroke="#76777a" stroke-width="0.9" stroke-linecap="butt"/>
<line x1="550.54" y1="701.50" x2="556.04" y2="701.50" stroke="#76777a" stroke-width="0.9" stroke-linecap="butt"/>
<line x1="550.54" y1="703.50" x2="556.04" y2="703.50" stroke="#76777a" stroke-width="0.9" stroke-linecap="butt"/>
<polyline points="144.00,570.50 202.47,613.90 260.94,616.50 319.41,643.30 377.88,668.20 436.35,632.20 494.82,646.10 553.29,666.60" fill="none" stroke="#abadb0" stroke-width="1.8" stroke-linejoin="round" stroke-linecap="butt" stroke-dasharray="2.8,1.9"/>
<polyline points="144.00,543.80 202.47,579.60 260.94,572.80 319.41,578.70 377.88,589.70 436.35,562.60 494.82,572.50 553.29,615.10" fill="none" stroke="#b6b7b9" stroke-width="2.0" stroke-linejoin="round" stroke-linecap="butt"/>
<polyline points="144.00,685.70 202.47,699.20 260.94,686.30 319.41,701.00 377.88,703.80 436.35,700.00 494.82,704.80 553.29,702.50" fill="none" stroke="#111" stroke-width="2.3" stroke-linejoin="round" stroke-linecap="butt" stroke-dasharray="2.9,2.3"/>
<polyline points="144.00,621.70 202.47,658.60 260.94,673.40 319.41,699.80 377.88,691.80 436.35,697.00 494.82,704.50 553.29,700.50" fill="none" stroke="#111" stroke-width="2.0" stroke-linejoin="round" stroke-linecap="butt"/>
<circle cx="144.00" cy="543.80" r="7.8" fill="#bcbec0" stroke="#58595b" stroke-width="1"/>
<circle cx="202.47" cy="579.60" r="7.8" fill="#bcbec0" stroke="#58595b" stroke-width="1"/>
<circle cx="260.94" cy="572.80" r="7.8" fill="#bcbec0" stroke="#58595b" stroke-width="1"/>
<circle cx="319.41" cy="578.70" r="7.8" fill="#bcbec0" stroke="#58595b" stroke-width="1"/>
<circle cx="377.88" cy="589.70" r="7.8" fill="#bcbec0" stroke="#58595b" stroke-width="1"/>
<circle cx="436.35" cy="562.60" r="7.8" fill="#bcbec0" stroke="#58595b" stroke-width="1"/>
<circle cx="494.82" cy="572.50" r="7.8" fill="#bcbec0" stroke="#58595b" stroke-width="1"/>
<circle cx="553.29" cy="615.10" r="7.8" fill="#bcbec0" stroke="#58595b" stroke-width="1"/>
<circle cx="144.00" cy="570.50" r="7.8" fill="#bcbec0" stroke="#58595b" stroke-width="1"/>
<circle cx="202.47" cy="613.90" r="7.8" fill="#bcbec0" stroke="#58595b" stroke-width="1"/>
<circle cx="260.94" cy="616.50" r="7.8" fill="#bcbec0" stroke="#58595b" stroke-width="1"/>
<circle cx="319.41" cy="643.30" r="7.8" fill="#bcbec0" stroke="#58595b" stroke-width="1"/>
<circle cx="377.88" cy="668.20" r="7.8" fill="#bcbec0" stroke="#58595b" stroke-width="1"/>
<circle cx="436.35" cy="632.20" r="7.8" fill="#bcbec0" stroke="#58595b" stroke-width="1"/>
<circle cx="494.82" cy="646.10" r="7.8" fill="#bcbec0" stroke="#58595b" stroke-width="1"/>
<circle cx="553.29" cy="666.60" r="7.8" fill="#bcbec0" stroke="#58595b" stroke-width="1"/>
<circle cx="144.00" cy="685.70" r="7.95" fill="#0b0b0b"/>
<circle cx="202.47" cy="699.20" r="7.95" fill="#0b0b0b"/>
<circle cx="260.94" cy="686.30" r="7.95" fill="#0b0b0b"/>
<circle cx="319.41" cy="701.00" r="7.95" fill="#0b0b0b"/>
<circle cx="377.88" cy="703.80" r="7.95" fill="#0b0b0b"/>
<circle cx="436.35" cy="700.00" r="7.95" fill="#0b0b0b"/>
<circle cx="494.82" cy="704.80" r="7.95" fill="#0b0b0b"/>
<circle cx="553.29" cy="702.50" r="7.95" fill="#0b0b0b"/>
<circle cx="144.00" cy="621.70" r="7.95" fill="#0b0b0b"/>
<circle cx="202.47" cy="658.60" r="7.95" fill="#0b0b0b"/>
<circle cx="260.94" cy="673.40" r="7.95" fill="#0b0b0b"/>
<circle cx="319.41" cy="699.80" r="7.95" fill="#0b0b0b"/>
<circle cx="377.88" cy="691.80" r="7.95" fill="#0b0b0b"/>
<circle cx="436.35" cy="697.00" r="7.95" fill="#0b0b0b"/>
<circle cx="494.82" cy="704.50" r="7.95" fill="#0b0b0b"/>
<circle cx="553.29" cy="700.50" r="7.95" fill="#0b0b0b"/>
<polyline points="580.5,616.2 586.4,616.2 586.4,702.2 579.2,702.2" fill="none" stroke="#6d6e71" stroke-width="1.2"/>
<text x="589.29" y="675.57" font-size="37.5" font-weight="bold" font-style="normal" fill="#ed1c24" textLength="14.85" lengthAdjust="spacingAndGlyphs">*</text>
<text x="608.19" y="675.57" font-size="37.5" font-weight="bold" font-style="normal" fill="#ed1c24" textLength="14.85" lengthAdjust="spacingAndGlyphs">*</text>
<text x="626.79" y="675.57" font-size="37.5" font-weight="bold" font-style="normal" fill="#ed1c24" textLength="14.85" lengthAdjust="spacingAndGlyphs">*</text>
<text x="145.22" y="464.50" font-size="20.3" font-weight="normal" font-style="italic" fill="#000" textLength="71.77" lengthAdjust="spacingAndGlyphs">Gria1/3</text>
<polygon points="186.35,465.59 186.83,462.22 191.43,462.22 190.68,465.59" fill="#fff"/>
<polygon points="192.77,465.59 193.44,462.22 197.90,462.22 196.99,465.59" fill="#fff"/>
<line x1="220.20" y1="450.00" x2="229.90" y2="450.00" stroke="#000" stroke-width="1.6" stroke-linecap="butt"/>
<line x1="239.80" y1="450.00" x2="249.40" y2="450.00" stroke="#000" stroke-width="1.6" stroke-linecap="butt"/>
<line x1="225.10" y1="445.40" x2="225.10" y2="454.60" stroke="#000" stroke-width="1.6" stroke-linecap="butt"/>
<line x1="244.50" y1="445.40" x2="244.50" y2="454.60" stroke="#000" stroke-width="1.6" stroke-linecap="butt"/>
<line x1="230.60" y1="456.90" x2="239.10" y2="442.60" stroke="#000" stroke-width="1.6" stroke-linecap="butt"/>
<text x="252.55" y="466.18" font-size="21.0" font-weight="normal" font-style="normal" fill="#000" textLength="63.39" lengthAdjust="spacingAndGlyphs">(n = 7)</text>
<line x1="164.50" y1="483.20" x2="232.50" y2="483.20" stroke="#111" stroke-width="1.5" stroke-linecap="butt"/>
<circle cx="199.20" cy="483.20" r="7.8" fill="#0b0b0b"/>
<line x1="164.50" y1="509.40" x2="232.50" y2="509.40" stroke="#111" stroke-width="1.5" stroke-linecap="butt" stroke-dasharray="2.2,2"/>
<circle cx="199.20" cy="509.40" r="7.8" fill="#0b0b0b"/>
<text x="343.84" y="464.50" font-size="20.5" font-weight="normal" font-style="italic" fill="#a7a9ac" textLength="77.17" lengthAdjust="spacingAndGlyphs">Gria1/3</text>
<polygon points="388.06,465.60 388.58,462.20 393.52,462.20 392.72,465.60" fill="#fff"/>
<polygon points="394.96,465.60 395.68,462.20 400.47,462.20 399.50,465.60" fill="#fff"/>
<text x="421.72" y="456.97" font-size="17.5" font-weight="normal" font-style="normal" fill="#a7a9ac" textLength="10.66" lengthAdjust="spacingAndGlyphs">Δ</text>
<text x="433.94" y="456.53" font-size="17.5" font-weight="normal" font-style="italic" fill="#a7a9ac" textLength="21.43" lengthAdjust="spacingAndGlyphs">Fb</text>
<text x="461.81" y="465.93" font-size="21.0" font-weight="normal" font-style="normal" fill="#a7a9ac" textLength="77.88" lengthAdjust="spacingAndGlyphs">(n = 10)</text>
<polygon points="507.95,467.06 507.95,463.58 512.89,463.58 512.89,467.06" fill="#fff"/>
<polygon points="514.94,467.06 514.94,463.58 519.66,463.58 519.66,467.06" fill="#fff"/>
<line x1="353.80" y1="484.50" x2="422.10" y2="484.50" stroke="#b6b7b9" stroke-width="1.2" stroke-linecap="butt"/>
<circle cx="388.50" cy="484.50" r="7.8" fill="#bcbec0" stroke="#58595b" stroke-width="1"/>
<line x1="353.80" y1="512.10" x2="422.10" y2="512.10" stroke="#b6b7b9" stroke-width="1.2" stroke-linecap="butt" stroke-dasharray="2.2,2"/>
<circle cx="388.50" cy="512.10" r="7.8" fill="#bcbec0" stroke="#58595b" stroke-width="1"/>
<text x="434.43" y="487.24" font-size="15.8" font-weight="normal" font-style="normal" fill="#000" textLength="179.47" lengthAdjust="spacingAndGlyphs">Re-entry rewarded arms</text>
<text x="434.43" y="515.79" font-size="15.8" font-weight="normal" font-style="normal" fill="#000" textLength="198.47" lengthAdjust="spacingAndGlyphs">Re-entry unrewarded arms</text>
<text x="0.27" y="810.26" font-size="19.5" font-weight="bold" font-style="normal" fill="#231f20" textLength="12.81" lengthAdjust="spacingAndGlyphs">C</text>
<line x1="111.20" y1="825.20" x2="111.20" y2="1088.00" stroke="#2e2e2e" stroke-width="1.1" stroke-linecap="butt"/>
<line x1="107.80" y1="1084.90" x2="111.20" y2="1084.90" stroke="#2e2e2e" stroke-width="1.1" stroke-linecap="butt"/>
<line x1="107.80" y1="998.37" x2="111.20" y2="998.37" stroke="#2e2e2e" stroke-width="1.1" stroke-linecap="butt"/>
<line x1="107.80" y1="911.84" x2="111.20" y2="911.84" stroke="#2e2e2e" stroke-width="1.1" stroke-linecap="butt"/>
<line x1="107.80" y1="825.31" x2="111.20" y2="825.31" stroke="#2e2e2e" stroke-width="1.1" stroke-linecap="butt"/>
<text x="69.37" y="1093.93" font-size="22.3" font-weight="normal" font-style="normal" fill="#000" textLength="31.31" lengthAdjust="spacingAndGlyphs">0.0</text>
<text x="69.37" y="1003.83" font-size="22.3" font-weight="normal" font-style="normal" fill="#000" textLength="31.31" lengthAdjust="spacingAndGlyphs">1.0</text>
<polygon points="70.03,1005.02 70.03,1001.32 75.00,1001.32 75.00,1005.02" fill="#fff"/>
<polygon points="77.06,1005.02 77.06,1001.32 81.80,1001.32 81.80,1005.02" fill="#fff"/>
<text x="69.37" y="917.93" font-size="22.3" font-weight="normal" font-style="normal" fill="#000" textLength="31.31" lengthAdjust="spacingAndGlyphs">2.0</text>
<text x="71.87" y="832.73" font-size="22.3" font-weight="normal" font-style="normal" fill="#000" textLength="31.31" lengthAdjust="spacingAndGlyphs">3.0</text>
<line x1="108.00" y1="1085.10" x2="583.30" y2="1085.10" stroke="#7a7a7a" stroke-width="1.5" stroke-linecap="butt"/>
<line x1="170.80" y1="1085.10" x2="170.80" y2="1087.80" stroke="#555" stroke-width="1.2" stroke-linecap="butt"/>
<line x1="229.40" y1="1085.10" x2="229.40" y2="1087.80" stroke="#555" stroke-width="1.2" stroke-linecap="butt"/>
<line x1="288.00" y1="1085.10" x2="288.00" y2="1087.80" stroke="#555" stroke-width="1.2" stroke-linecap="butt"/>
<line x1="346.60" y1="1085.10" x2="346.60" y2="1087.80" stroke="#555" stroke-width="1.2" stroke-linecap="butt"/>
<line x1="405.20" y1="1085.10" x2="405.20" y2="1087.80" stroke="#555" stroke-width="1.2" stroke-linecap="butt"/>
<line x1="463.80" y1="1085.10" x2="463.80" y2="1087.80" stroke="#555" stroke-width="1.2" stroke-linecap="butt"/>
<line x1="522.40" y1="1085.10" x2="522.40" y2="1087.80" stroke="#555" stroke-width="1.2" stroke-linecap="butt"/>
<line x1="581.00" y1="1085.10" x2="581.00" y2="1087.80" stroke="#555" stroke-width="1.2" stroke-linecap="butt"/>
<text x="136.53" y="1113.00" font-size="19.5" font-weight="normal" font-style="normal" fill="#000" textLength="11.39" lengthAdjust="spacingAndGlyphs">1</text>
<polygon points="137.13,1114.05 137.13,1110.81 141.65,1110.81 141.65,1114.05" fill="#fff"/>
<polygon points="143.51,1114.05 143.51,1110.81 147.82,1110.81 147.82,1114.05" fill="#fff"/>
<text x="191.81" y="1113.00" font-size="19.5" font-weight="normal" font-style="normal" fill="#000" textLength="11.39" lengthAdjust="spacingAndGlyphs">2</text>
<text x="254.97" y="1113.00" font-size="19.5" font-weight="normal" font-style="normal" fill="#000" textLength="11.39" lengthAdjust="spacingAndGlyphs">3</text>
<text x="309.37" y="1113.00" font-size="19.5" font-weight="normal" font-style="normal" fill="#000" textLength="11.39" lengthAdjust="spacingAndGlyphs">4</text>
<text x="371.13" y="1113.00" font-size="19.5" font-weight="normal" font-style="normal" fill="#000" textLength="11.39" lengthAdjust="spacingAndGlyphs">5</text>
<text x="428.24" y="1113.00" font-size="19.5" font-weight="normal" font-style="normal" fill="#000" textLength="11.39" lengthAdjust="spacingAndGlyphs">6</text>
<text x="488.50" y="1113.00" font-size="19.5" font-weight="normal" font-style="normal" fill="#000" textLength="11.39" lengthAdjust="spacingAndGlyphs">7</text>
<text x="548.11" y="1113.00" font-size="19.5" font-weight="normal" font-style="normal" fill="#000" textLength="11.39" lengthAdjust="spacingAndGlyphs">8</text>
<text x="260.76" y="1148.14" font-size="22.0" font-weight="normal" font-style="normal" fill="#000" textLength="211.51" lengthAdjust="spacingAndGlyphs">Day [n] (4 trials/day)</text>
<text transform="translate(21.90,1033.11) rotate(-90)" x="0" y="0" font-size="22.0" fill="#000" textLength="168.26" lengthAdjust="spacingAndGlyphs">SRM errors [n] in</text>
<text transform="translate(48.00,1082.24) rotate(-90)" x="0" y="0" font-size="20.6" fill="#000" textLength="267.13" lengthAdjust="spacingAndGlyphs">the free choice radial maze</text>
<line x1="141.00" y1="897.50" x2="141.00" y2="931.50" stroke="#76777a" stroke-width="0.9" stroke-linecap="butt"/>
<line x1="138.25" y1="897.50" x2="143.75" y2="897.50" stroke="#76777a" stroke-width="0.9" stroke-linecap="butt"/>
<line x1="138.25" y1="931.50" x2="143.75" y2="931.50" stroke="#76777a" stroke-width="0.9" stroke-linecap="butt"/>
<line x1="199.90" y1="921.90" x2="199.90" y2="959.90" stroke="#76777a" stroke-width="0.9" stroke-linecap="butt"/>
<line x1="197.15" y1="921.90" x2="202.65" y2="921.90" stroke="#76777a" stroke-width="0.9" stroke-linecap="butt"/>
<line x1="197.15" y1="959.90" x2="202.65" y2="959.90" stroke="#76777a" stroke-width="0.9" stroke-linecap="butt"/>
<line x1="258.80" y1="921.60" x2="258.80" y2="944.60" stroke="#76777a" stroke-width="0.9" stroke-linecap="butt"/>
<line x1="256.05" y1="921.60" x2="261.55" y2="921.60" stroke="#76777a" stroke-width="0.9" stroke-linecap="butt"/>
<line x1="256.05" y1="944.60" x2="261.55" y2="944.60" stroke="#76777a" stroke-width="0.9" stroke-linecap="butt"/>
<line x1="317.70" y1="927.00" x2="317.70" y2="951.40" stroke="#76777a" stroke-width="0.9" stroke-linecap="butt"/>
<line x1="314.95" y1="927.00" x2="320.45" y2="927.00" stroke="#76777a" stroke-width="0.9" stroke-linecap="butt"/>
<line x1="314.95" y1="951.40" x2="320.45" y2="951.40" stroke="#76777a" stroke-width="0.9" stroke-linecap="butt"/>
<line x1="376.60" y1="959.20" x2="376.60" y2="967.20" stroke="#76777a" stroke-width="0.9" stroke-linecap="butt"/>
<line x1="373.85" y1="959.20" x2="379.35" y2="959.20" stroke="#76777a" stroke-width="0.9" stroke-linecap="butt"/>
<line x1="373.85" y1="967.20" x2="379.35" y2="967.20" stroke="#76777a" stroke-width="0.9" stroke-linecap="butt"/>
<line x1="435.50" y1="953.20" x2="435.50" y2="961.20" stroke="#76777a" stroke-width="0.9" stroke-linecap="butt"/>
<line x1="432.75" y1="953.20" x2="438.25" y2="953.20" stroke="#76777a" stroke-width="0.9" stroke-linecap="butt"/>
<line x1="432.75" y1="961.20" x2="438.25" y2="961.20" stroke="#76777a" stroke-width="0.9" stroke-linecap="butt"/>
<line x1="494.40" y1="924.00" x2="494.40" y2="932.00" stroke="#76777a" stroke-width="0.9" stroke-linecap="butt"/>
<line x1="491.65" y1="924.00" x2="497.15" y2="924.00" stroke="#76777a" stroke-width="0.9" stroke-linecap="butt"/>
<line x1="491.65" y1="932.00" x2="497.15" y2="932.00" stroke="#76777a" stroke-width="0.9" stroke-linecap="butt"/>
<line x1="553.30" y1="953.20" x2="553.30" y2="961.20" stroke="#76777a" stroke-width="0.9" stroke-linecap="butt"/>
<line x1="550.55" y1="953.20" x2="556.05" y2="953.20" stroke="#76777a" stroke-width="0.9" stroke-linecap="butt"/>
<line x1="550.55" y1="961.20" x2="556.05" y2="961.20" stroke="#76777a" stroke-width="0.9" stroke-linecap="butt"/>
<line x1="141.00" y1="966.90" x2="141.00" y2="1009.70" stroke="#76777a" stroke-width="0.9" stroke-linecap="butt"/>
<line x1="138.25" y1="966.90" x2="143.75" y2="966.90" stroke="#76777a" stroke-width="0.9" stroke-linecap="butt"/>
<line x1="138.25" y1="1009.70" x2="143.75" y2="1009.70" stroke="#76777a" stroke-width="0.9" stroke-linecap="butt"/>
<line x1="199.90" y1="983.60" x2="199.90" y2="1024.80" stroke="#76777a" stroke-width="0.9" stroke-linecap="butt"/>
<line x1="197.15" y1="983.60" x2="202.65" y2="983.60" stroke="#76777a" stroke-width="0.9" stroke-linecap="butt"/>
<line x1="197.15" y1="1024.80" x2="202.65" y2="1024.80" stroke="#76777a" stroke-width="0.9" stroke-linecap="butt"/>
<line x1="258.80" y1="985.50" x2="258.80" y2="1022.90" stroke="#76777a" stroke-width="0.9" stroke-linecap="butt"/>
<line x1="256.05" y1="985.50" x2="261.55" y2="985.50" stroke="#76777a" stroke-width="0.9" stroke-linecap="butt"/>
<line x1="256.05" y1="1022.90" x2="261.55" y2="1022.90" stroke="#76777a" stroke-width="0.9" stroke-linecap="butt"/>
<line x1="317.70" y1="1013.00" x2="317.70" y2="1050.20" stroke="#76777a" stroke-width="0.9" stroke-linecap="butt"/>
<line x1="314.95" y1="1013.00" x2="320.45" y2="1013.00" stroke="#76777a" stroke-width="0.9" stroke-linecap="butt"/>
<line x1="314.95" y1="1050.20" x2="320.45" y2="1050.20" stroke="#76777a" stroke-width="0.9" stroke-linecap="butt"/>
<line x1="376.60" y1="1051.20" x2="376.60" y2="1087.20" stroke="#76777a" stroke-width="0.9" stroke-linecap="butt"/>
<line x1="373.85" y1="1051.20" x2="379.35" y2="1051.20" stroke="#76777a" stroke-width="0.9" stroke-linecap="butt"/>
<line x1="373.85" y1="1087.20" x2="379.35" y2="1087.20" stroke="#76777a" stroke-width="0.9" stroke-linecap="butt"/>
<line x1="435.50" y1="1050.70" x2="435.50" y2="1087.70" stroke="#76777a" stroke-width="0.9" stroke-linecap="butt"/>
<line x1="432.75" y1="1050.70" x2="438.25" y2="1050.70" stroke="#76777a" stroke-width="0.9" stroke-linecap="butt"/>
<line x1="432.75" y1="1087.70" x2="438.25" y2="1087.70" stroke="#76777a" stroke-width="0.9" stroke-linecap="butt"/>
<line x1="494.40" y1="1044.60" x2="494.40" y2="1081.00" stroke="#76777a" stroke-width="0.9" stroke-linecap="butt"/>
<line x1="491.65" y1="1044.60" x2="497.15" y2="1044.60" stroke="#76777a" stroke-width="0.9" stroke-linecap="butt"/>
<line x1="491.65" y1="1081.00" x2="497.15" y2="1081.00" stroke="#76777a" stroke-width="0.9" stroke-linecap="butt"/>
<line x1="553.30" y1="1039.60" x2="553.30" y2="1080.40" stroke="#76777a" stroke-width="0.9" stroke-linecap="butt"/>
<line x1="550.55" y1="1039.60" x2="556.05" y2="1039.60" stroke="#76777a" stroke-width="0.9" stroke-linecap="butt"/>
<line x1="550.55" y1="1080.40" x2="556.05" y2="1080.40" stroke="#76777a" stroke-width="0.9" stroke-linecap="butt"/>
<polyline points="141.00,914.50 199.90,940.90 258.80,933.10 317.70,939.20 376.60,963.20 435.50,957.20 494.40,928.00 553.30,957.20" fill="none" stroke="#c8c4c6" stroke-width="1.5" stroke-linejoin="round" stroke-linecap="butt"/>
<polyline points="141.00,988.30 199.90,1004.20 258.80,1004.20 317.70,1031.60 376.60,1069.20 435.50,1069.20 494.40,1062.80 553.30,1060.00" fill="none" stroke="#111" stroke-width="2.0" stroke-linejoin="round" stroke-linecap="butt"/>
<circle cx="141.00" cy="914.50" r="7.8" fill="#bcbec0" stroke="#58595b" stroke-width="1"/>
<circle cx="199.90" cy="940.90" r="7.8" fill="#bcbec0" stroke="#58595b" stroke-width="1"/>
<circle cx="258.80" cy="933.10" r="7.8" fill="#bcbec0" stroke="#58595b" stroke-width="1"/>
<circle cx="317.70" cy="939.20" r="7.8" fill="#bcbec0" stroke="#58595b" stroke-width="1"/>
<circle cx="376.60" cy="963.20" r="7.8" fill="#bcbec0" stroke="#58595b" stroke-width="1"/>
<circle cx="435.50" cy="957.20" r="7.8" fill="#bcbec0" stroke="#58595b" stroke-width="1"/>
<circle cx="494.40" cy="928.00" r="7.8" fill="#bcbec0" stroke="#58595b" stroke-width="1"/>
<circle cx="553.30" cy="957.20" r="7.8" fill="#bcbec0" stroke="#58595b" stroke-width="1"/>
<circle cx="141.00" cy="988.30" r="7.8" fill="#0b0b0b"/>
<circle cx="199.90" cy="1004.20" r="7.8" fill="#0b0b0b"/>
<circle cx="258.80" cy="1004.20" r="7.8" fill="#0b0b0b"/>
<circle cx="317.70" cy="1031.60" r="7.8" fill="#0b0b0b"/>
<circle cx="376.60" cy="1069.20" r="7.8" fill="#0b0b0b"/>
<circle cx="435.50" cy="1069.20" r="7.8" fill="#0b0b0b"/>
<circle cx="494.40" cy="1062.80" r="7.8" fill="#0b0b0b"/>
<circle cx="553.30" cy="1060.00" r="7.8" fill="#0b0b0b"/>
<polyline points="586.0,960.3 592.4,960.3 592.4,1059.1 586.0,1059.1" fill="none" stroke="#6d6e71" stroke-width="1.2"/>
<text x="597.18" y="1026.87" font-size="37.5" font-weight="bold" font-style="normal" fill="#ed1c24" textLength="15.35" lengthAdjust="spacingAndGlyphs">*</text>
<text x="615.78" y="1026.87" font-size="37.5" font-weight="bold" font-style="normal" fill="#ed1c24" textLength="15.35" lengthAdjust="spacingAndGlyphs">*</text>
<text x="634.48" y="1026.87" font-size="37.5" font-weight="bold" font-style="normal" fill="#ed1c24" textLength="15.35" lengthAdjust="spacingAndGlyphs">*</text>
<circle cx="141.80" cy="841.50" r="8.0" fill="#0b0b0b"/>
<text x="158.86" y="846.60" font-size="20.0" font-weight="normal" font-style="italic" fill="#000" textLength="75.95" lengthAdjust="spacingAndGlyphs">Gria1/3</text>
<polygon points="202.38,847.67 202.89,844.35 207.75,844.35 206.96,847.67" fill="#fff"/>
<polygon points="209.17,847.67 209.88,844.35 214.60,844.35 213.63,847.67" fill="#fff"/>
<line x1="237.60" y1="834.40" x2="245.80" y2="834.40" stroke="#000" stroke-width="1.35" stroke-linecap="butt"/>
<line x1="254.40" y1="834.40" x2="262.40" y2="834.40" stroke="#000" stroke-width="1.35" stroke-linecap="butt"/>
<line x1="241.90" y1="830.60" x2="241.90" y2="838.40" stroke="#000" stroke-width="1.35" stroke-linecap="butt"/>
<line x1="258.40" y1="830.60" x2="258.40" y2="838.40" stroke="#000" stroke-width="1.35" stroke-linecap="butt"/>
<line x1="246.60" y1="840.80" x2="253.90" y2="828.10" stroke="#000" stroke-width="1.35" stroke-linecap="butt"/>
<text x="268.85" y="842.95" font-size="16.6" font-weight="normal" font-style="normal" fill="#000" textLength="58.90" lengthAdjust="spacingAndGlyphs">(n = 7)</text>
<circle cx="141.80" cy="870.70" r="7.8" fill="#bcbec0" stroke="#58595b" stroke-width="1"/>
<text x="157.15" y="877.20" font-size="20.0" font-weight="normal" font-style="italic" fill="#a7a9ac" textLength="76.15" lengthAdjust="spacingAndGlyphs">Gria1/3</text>
<polygon points="200.80,878.27 201.31,874.95 206.18,874.95 205.39,878.27" fill="#fff"/>
<polygon points="207.60,878.27 208.31,874.95 213.04,874.95 212.08,878.27" fill="#fff"/>
<text x="233.91" y="871.32" font-size="17.5" font-weight="normal" font-style="normal" fill="#a7a9ac" textLength="10.99" lengthAdjust="spacingAndGlyphs">Δ</text>
<text x="245.94" y="871.03" font-size="17.5" font-weight="normal" font-style="italic" fill="#a7a9ac" textLength="21.43" lengthAdjust="spacingAndGlyphs">Fb</text>
<text x="271.25" y="871.50" font-size="16.6" font-weight="normal" font-style="normal" fill="#a7a9ac" textLength="70.00" lengthAdjust="spacingAndGlyphs">(n = 10)</text>
<polygon points="312.72,872.39 312.72,869.63 317.17,869.63 317.17,872.39" fill="#fff"/>
<polygon points="319.01,872.39 319.01,869.63 323.25,869.63 323.25,872.39" fill="#fff"/>
</svg></body></html>
